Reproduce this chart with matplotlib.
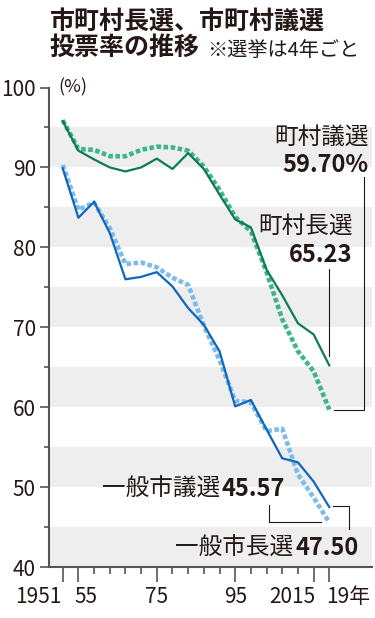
import matplotlib
matplotlib.use("Agg")
import matplotlib.pyplot as plt

plt.rcParams['font.family'] = ['Noto Sans CJK JP', 'DejaVu Sans']

# データ（統一地方選の投票率, %）
years = [1951, 1955, 1959, 1963, 1967, 1971, 1975, 1979, 1983,
         1987, 1991, 1995, 1999, 2003, 2007, 2011, 2015, 2019]
chouson_chou = [95.8, 92.1, 91.0, 90.0, 89.5, 90.0, 91.1, 89.8, 91.8,
                89.8, 86.6, 83.5, 82.5, 77.2, 74.0, 70.5, 69.1, 65.23]
chouson_gi = [95.9, 92.3, 92.2, 91.4, 91.4, 92.2, 92.6, 92.5, 92.1,
              90.1, 87.2, 83.8, 82.0, 76.9, 71.0, 67.0, 64.5, 59.70]
shi_chou = [89.9, 83.7, 85.7, 81.8, 76.0, 76.3, 76.9, 75.1, 72.4,
            70.3, 67.0, 60.1, 60.9, 57.2, 53.6, 53.1, 50.7, 47.50]
shi_gi = [90.3, 84.7, 85.6, 82.4, 77.9, 78.1, 77.5, 76.2, 75.3,
          70.2, 65.9, 60.8, 60.6, 57.0, 57.3, 51.6, 48.7, 45.57]

major_years = [1951, 1955, 1975, 1995, 2015, 2019]
major_labels = ['1951', '55', '75', '95', '2015', '19年']
label_ha = ['right', 'left', 'center', 'center', 'right', 'left']
label_dx = [-0.2, -1.0, 0, 0, 0.35, -0.9]  # 年単位のずらし

# 色
c_green = '#0b7d4f'
c_green_l = '#3fb38c'
c_blue = '#0f66bd'
c_blue_l = '#7dbbe8'
c_axis = '#555555'
c_text = '#231815'

fig = plt.figure(figsize=(3.75, 6.18), dpi=100)
ax = fig.add_axes([49 / 375, 1 - 567 / 618, (372 - 49) / 375, (567 - 87.5) / 618])

# 背景の帯
for lo in range(40, 100, 10):
    ax.axhspan(lo, lo + 5, color='#eeeeee', lw=0, zorder=0)

# 線（点線は下、実線は上）
ax.plot(years, chouson_gi, color=c_green_l, lw=3.3, dashes=(1.0, 0.55), zorder=2,
        dash_capstyle='butt')
ax.plot(years, shi_gi, color=c_blue_l, lw=3.3, dashes=(1.0, 0.55), zorder=2,
        dash_capstyle='butt')
ax.plot(years, chouson_chou, color=c_green, lw=1.6, zorder=3)
ax.plot(years, shi_chou, color=c_blue, lw=1.6, zorder=3)

ax.set_xlim(1947.5, 2029.9)
ax.set_ylim(40, 100)

# 軸
for s in ['top', 'right']:
    ax.spines[s].set_visible(False)
for s in ['left', 'bottom']:
    ax.spines[s].set_color(c_axis)
    ax.spines[s].set_linewidth(1.5)

ax.set_yticks(range(40, 101, 10))
ax.set_yticks(range(45, 100, 10), minor=True)
ax.set_xticks(major_years)
ax.set_xticks(years, minor=True)
ax.tick_params(axis='y', which='major', length=6.5, width=1.2, color=c_axis,
               labelsize=15, labelcolor=c_text, pad=3)
ax.tick_params(axis='y', which='minor', length=3.5, width=1.2, color=c_axis)
ax.tick_params(axis='x', which='major', length=10.5, width=1.2, color=c_axis,
               labelbottom=False)
ax.tick_params(axis='x', which='minor', length=5, width=1.2, color=c_axis)

for yr, lab, ha, dx in zip(major_years, major_labels, label_ha, label_dx):
    ax.text(yr + dx, -0.062, lab, transform=ax.get_xaxis_transform(),
            fontsize=15, color=c_text, ha=ha, va='center')

ax.text(1949.8, 100, '(%)', fontsize=13, color=c_text, ha='left', va='center')

# ラベル
ax.text(2029.0, 93.8, '町村議選', fontsize=17, color=c_text, ha='right', va='center')
ax.text(2029.0, 90.3, f'{chouson_gi[-1]:.2f}%', fontsize=17, fontweight='bold',
        color=c_text, ha='right', va='center')
ax.text(2025.0, 82.6, '町村長選', fontsize=17, color=c_text, ha='right', va='center')
ax.text(2025.0, 79.1, f'{chouson_chou[-1]:.2f}', fontsize=17, fontweight='bold',
        color=c_text, ha='right', va='center')
ax.text(1991.2, 49.7, '一般市議選', fontsize=17, color=c_text, ha='right', va='center')
ax.text(1991.6, 49.7, f'{shi_gi[-1]:.2f}', fontsize=17, fontweight='bold',
        color=c_text, ha='left', va='center')
ax.text(2009.9, 42.4, '一般市長選', fontsize=17, color=c_text, ha='right', va='center')
ax.text(2010.3, 42.4, f'{shi_chou[-1]:.2f}', fontsize=17, fontweight='bold',
        color=c_text, ha='left', va='center')

# 引き出し線
lk = dict(color=c_text, lw=0.8, zorder=4)
ax.plot([years[-1], years[-1]], [chouson_chou[-1] + 1.2, 77.3], **lk)
ax.plot([2020.2, 2027.9, 2027.9], [chouson_gi[-1], chouson_gi[-1], 88.85], **lk)
ax.plot([2003.6, 2003.6, 2016.9], [47.8, shi_gi[-1] + 0.1, shi_gi[-1] + 0.1], **lk)
ax.plot([2020.0, 2024.0, 2024.0], [shi_chou[-1] + 0.1, shi_chou[-1] + 0.1, 44.7], **lk)

# タイトル
fig.text(50 / 375, 1 - 22 / 618, '市町村長選、市町村議選', fontsize=18, fontweight='bold',
         color=c_text, ha='left', va='center')
fig.text(50 / 375, 1 - 48 / 618, '投票率の推移', fontsize=18, fontweight='bold',
         color=c_text, ha='left', va='center')
fig.text(207 / 375, 1 - 50 / 618, '※選挙は4年ごと', fontsize=14.5,
         color=c_text, ha='left', va='center')

fig.savefig('out.png', dpi=100)
